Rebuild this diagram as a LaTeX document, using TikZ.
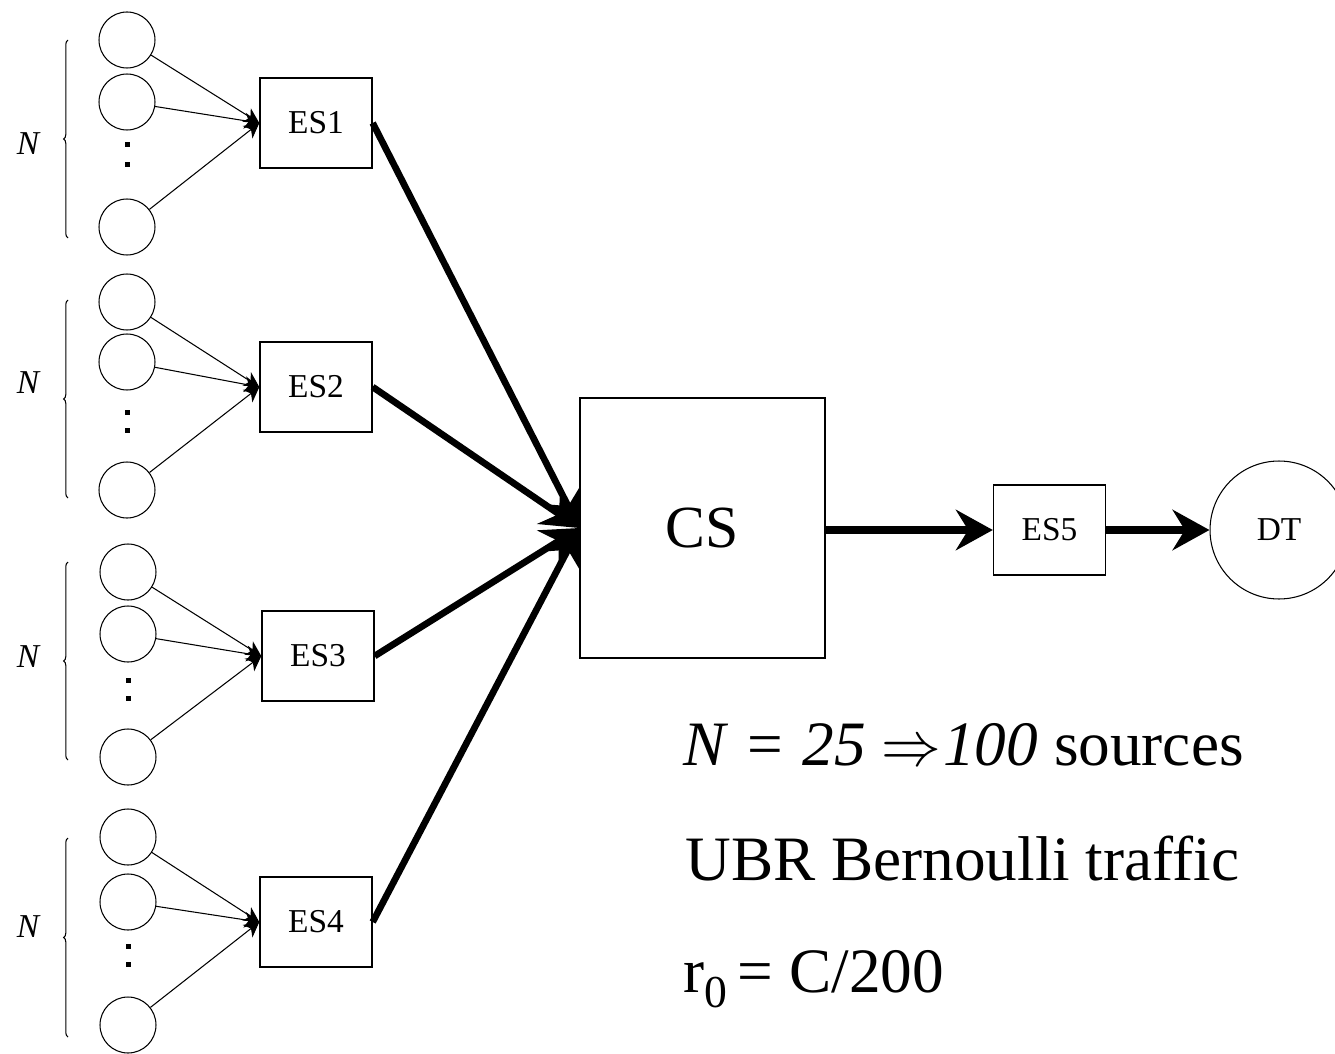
\documentclass[tikz,border=0pt]{standalone}
\usepackage{fontspec}
\setmainfont{Liberation Serif}
\usepackage{tikz}
\usetikzlibrary{shapes,positioning,calc}
\usetikzlibrary{arrows.meta}
\usetikzlibrary{decorations.pathreplacing}
\tikzstyle{source} = [circle, minimum size=1.12cm, inner sep=0pt, draw=black, line width=0.6pt]
\tikzstyle{vdot} = [rectangle, fill=black, minimum size=0.1cm, inner sep=0pt]
\tikzstyle{esbox} = [rectangle, minimum width=2.24cm, minimum height=1.8cm, text centered, draw=black, line width=0.8pt, font=\fontsize{19}{19}\selectfont]
\tikzstyle{feed} = [line width=0.6pt,-{Stealth[length=8.5pt,width=9pt,inset=2.5pt]}]
\tikzstyle{trunk} = [line width=3.8pt,-{Stealth[length=21pt,width=23pt,inset=7pt]}]
\tikzstyle{bracket} = [line width=0.6pt, decorate, decoration={brace,amplitude=2.5pt}]
\tikzstyle{grp} = [font=\fontsize{19}{19}\selectfont\itshape]
\tikzstyle{note} = [anchor=base west, inner sep=0pt, font=\fontsize{36}{36}\selectfont]

\begin{document}
\begin{tikzpicture}[x=0.02cm, y=-0.02cm]
				\useasboundingbox (0,0) rectangle (1335,1054);
				% first group
				\node (s1a) at (127,40) [source] {};
				\node (s1b) at (127,102) [source] {};
				\node (p1a) at (127,145) [vdot] {};
				\node (p1b) at (127,165) [vdot] {};
				\node (s1c) at (127,227) [source] {};
				\draw[bracket] (68,238) -- (68,40);
				\node (n1) at (28,144) [grp] {N};
				\node (es1) at (316,123) [esbox] {ES1};
				\draw[feed] (s1a) -- (es1.west);
				\draw[feed] (s1b) -- (es1.west);
				\draw[feed] (s1c) -- (es1.west);
				% second group
				\node (s2a) at (127,302) [source] {};
				\node (s2b) at (127,362) [source] {};
				\node (p2a) at (127,412) [vdot] {};
				\node (p2b) at (127,430) [vdot] {};
				\node (s2c) at (127,490) [source] {};
				\draw[bracket] (68,498) -- (68,300);
				\node (n2) at (28,383) [grp] {N};
				\node (es2) at (316,387) [esbox] {ES2};
				\draw[feed] (s2a) -- (es2.west);
				\draw[feed] (s2b) -- (es2.west);
				\draw[feed] (s2c) -- (es2.west);
				% third group
				\node (s3a) at (128,572) [source] {};
				\node (s3b) at (128,634) [source] {};
				\node (p3a) at (128,680) [vdot] {};
				\node (p3b) at (128,698) [vdot] {};
				\node (s3c) at (128,757) [source] {};
				\draw[bracket] (68,760) -- (68,562);
				\node (n3) at (28,657) [grp] {N};
				\node (es3) at (318,656) [esbox] {ES3};
				\draw[feed] (s3a) -- (es3.west);
				\draw[feed] (s3b) -- (es3.west);
				\draw[feed] (s3c) -- (es3.west);
				% fourth group
				\node (s4a) at (128,837) [source] {};
				\node (s4b) at (128,902) [source] {};
				\node (p4a) at (128,946) [vdot] {};
				\node (p4b) at (128,964) [vdot] {};
				\node (s4c) at (128,1025) [source] {};
				\draw[bracket] (68,1037) -- (68,838);
				\node (n4) at (28,927) [grp] {N};
				\node (es4) at (316,922) [esbox] {ES4};
				\draw[feed] (s4a) -- (es4.west);
				\draw[feed] (s4b) -- (es4.west);
				\draw[feed] (s4c) -- (es4.west);
				% core and sink
				\node (cs) at (702.5,528) [esbox, minimum width=4.9cm, minimum height=5.2cm, font=\fontsize{34}{34}\selectfont] {CS};
				\node (es5) at (1049.5,530) [esbox] {ES5};
				\node (dt) at (1279,530) [source, minimum size=2.76cm, font=\fontsize{19}{19}\selectfont] {DT};
				\draw[trunk] (es1.east) -- (cs.west);
				\draw[trunk] (es2.east) -- (cs.west);
				\draw[trunk] (es3.east) -- (cs.west);
				\draw[trunk] (es4.east) -- (cs.west);
				\draw[trunk, line width=5pt] (cs.east |- es5.west) -- (es5.west);
				\draw[trunk, line width=5pt] (es5.east) -- (dt.west);
				% parameters
				\node (t1) at (683,765) [note] {\textit{N} \kern2pt= \kern2pt\textit{25} \scalebox{3.4}[3.6]{\fontsize{10}{10}\selectfont$\Rightarrow$}\kern1pt\textit{100} sources};
				\node (t2) at (685,880) [note] {UBR Bernoulli traffic};
				\node (t3) at (683,992) [note] {r\raisebox{-9pt}{\fontsize{26}{26}\selectfont 0}\,= C/200};
\end{tikzpicture}
\end{document}
